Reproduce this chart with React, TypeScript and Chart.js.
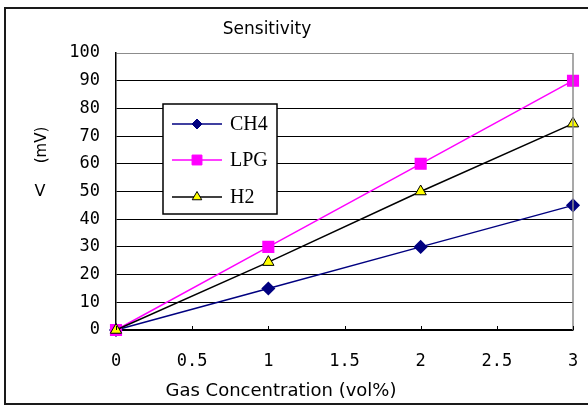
import React, { useEffect, useRef } from "react";
import { Chart, registerables } from "chart.js";

Chart.register(...registerables);

// ---- data ----
const gasConcentration = [0, 1, 2, 3];
const ch4Values = [0, 15, 30, 45];
const lpgValues = [0, 30, 60, 90];
const h2Values = [0, 24.5, 50, 74.5];
const seriesNames = ["CH4", "LPG", "H2"];
const xTickValues = [0, 0.5, 1, 1.5, 2, 2.5, 3];
const yTickValues = [0, 10, 20, 30, 40, 50, 60, 70, 80, 90, 100];
const chartTitle = "Sensitivity";
const xTitle = "Gas Concentration (vol%)";
const yTitleUnit = "(mV)";
const yTitleSymbol = "V";

const tickFont = "DejaVu Sans Mono";
const sansFont = "DejaVu Sans";
const serifFont = "Liberation Serif";

type MarkerStyle = "rectRot" | "rect" | "triangle";

function drawMarker(
  ctx: CanvasRenderingContext2D,
  style: MarkerStyle,
  x: number,
  y: number,
  r: number,
  fill: string,
  stroke: string
) {
  ctx.save();
  ctx.beginPath();
  if (style === "rectRot") {
    ctx.moveTo(x, y - r);
    ctx.lineTo(x + r, y);
    ctx.lineTo(x, y + r);
    ctx.lineTo(x - r, y);
    ctx.closePath();
  } else if (style === "rect") {
    const s = r * Math.SQRT1_2;
    ctx.rect(x - s, y - s, 2 * s, 2 * s);
  } else {
    let rad = 0;
    ctx.moveTo(x + Math.sin(rad) * r, y - Math.cos(rad) * r);
    rad += (2 * Math.PI) / 3;
    ctx.lineTo(x + Math.sin(rad) * r, y - Math.cos(rad) * r);
    rad += (2 * Math.PI) / 3;
    ctx.lineTo(x + Math.sin(rad) * r, y - Math.cos(rad) * r);
    ctx.closePath();
  }
  ctx.fillStyle = fill;
  ctx.fill();
  ctx.strokeStyle = stroke;
  ctx.lineWidth = 1;
  ctx.stroke();
  ctx.restore();
}

const legendMarkers: { style: MarkerStyle; r: number }[] = [
  { style: "rectRot", r: 5 },
  { style: "rect", r: 7 },
  { style: "triangle", r: 5.5 },
];

const decorPlugin = {
  id: "decor",
  beforeDraw(chart: any) {
    const ctx: CanvasRenderingContext2D = chart.ctx;
    ctx.save();
    ctx.fillStyle = "#fff";
    ctx.fillRect(0, 0, chart.width, chart.height);
    // outer frame
    ctx.strokeStyle = "#1a1a1a";
    ctx.lineWidth = 2;
    ctx.beginPath();
    ctx.moveTo(chart.width, 8);
    ctx.lineTo(5, 8);
    ctx.lineTo(5, chart.height - 2);
    ctx.lineTo(chart.width, chart.height - 2);
    ctx.stroke();
    ctx.restore();
  },
  afterDraw(chart: any) {
    const ctx: CanvasRenderingContext2D = chart.ctx;
    const area = chart.chartArea;
    const xs = chart.scales.x;
    ctx.save();
    // right border (gray)
    ctx.strokeStyle = "#8c8c8c";
    ctx.lineWidth = 1.5;
    ctx.beginPath();
    ctx.moveTo(area.right, area.top);
    ctx.lineTo(area.right, area.bottom);
    ctx.stroke();
    // inward x ticks
    ctx.strokeStyle = "#000";
    ctx.lineWidth = 1;
    xTickValues.forEach((v) => {
      const px = Math.round(xs.getPixelForValue(v)) + 0.5;
      ctx.beginPath();
      ctx.moveTo(px, area.bottom - 4);
      ctx.lineTo(px, area.bottom);
      ctx.stroke();
    });
    // chart title
    ctx.fillStyle = "#000";
    ctx.textAlign = "center";
    ctx.textBaseline = "middle";
    ctx.font = `17px "${sansFont}"`;
    ctx.fillText(chartTitle, 267, area.top - 23);
    // x axis title
    ctx.font = `18px "${sansFont}"`;
    ctx.fillText(xTitle, 281, area.bottom + 61);
    // y axis title (vertical writing)
    ctx.save();
    ctx.translate(42, area.top + 92);
    ctx.rotate(-Math.PI / 2);
    ctx.font = `15px "${sansFont}"`;
    ctx.fillText(yTitleUnit, 0, 0);
    ctx.restore();
    ctx.font = `16px "${sansFont}"`;
    ctx.fillText(yTitleSymbol, 40, area.top + 139);

    // legend
    const lx = area.left + 47;
    const ly = area.top + 51;
    const lw = 114;
    const lh = 110;
    ctx.fillStyle = "#fff";
    ctx.fillRect(lx, ly, lw, lh);
    ctx.strokeStyle = "#000";
    ctx.lineWidth = 1.5;
    ctx.strokeRect(lx, ly, lw, lh);
    const rows = [20, 56, 93];
    chart.data.datasets.forEach((ds: any, i: number) => {
      const y = ly + rows[i];
      ctx.strokeStyle = ds.borderColor;
      ctx.lineWidth = 1.5;
      ctx.beginPath();
      ctx.moveTo(lx + 9, y);
      ctx.lineTo(lx + 59, y);
      ctx.stroke();
      drawMarker(
        ctx,
        legendMarkers[i].style,
        lx + 34,
        y,
        legendMarkers[i].r,
        ds.pointBackgroundColor,
        ds.pointBorderColor
      );
      ctx.fillStyle = "#000";
      ctx.textAlign = "left";
      ctx.textBaseline = "middle";
      ctx.font = `20px "${serifFont}"`;
      ctx.fillText(ds.label, lx + 67, y + 1);
    });
    ctx.restore();
  },
};

export default function App() {
  const canvasRef = useRef<HTMLCanvasElement>(null);

  useEffect(() => {
    const canvas = canvasRef.current;
    if (!canvas) return;
    const toPoints = (vals: number[]) =>
      gasConcentration.map((x, i) => ({ x, y: vals[i] }));

    const chart = new Chart(canvas, {
      type: "line",
      data: {
        datasets: [
          {
            label: seriesNames[0],
            data: toPoints(ch4Values),
            borderColor: "#000080",
            backgroundColor: "#000080",
            pointBackgroundColor: "#000080",
            pointBorderColor: "#000080",
            pointStyle: "rectRot",
            pointRadius: 6,
            borderWidth: 1.5,
            order: 2,
            clip: false,
          },
          {
            label: seriesNames[1],
            data: toPoints(lpgValues),
            borderColor: "#ff00ff",
            backgroundColor: "#ff00ff",
            pointBackgroundColor: "#ff00ff",
            pointBorderColor: "#ff00ff",
            pointStyle: "rect",
            pointRadius: 7.5,
            borderWidth: 1.5,
            order: 1,
            clip: false,
          },
          {
            label: seriesNames[2],
            data: toPoints(h2Values),
            borderColor: "#000000",
            backgroundColor: "#ffff00",
            pointBackgroundColor: "#ffff00",
            pointBorderColor: "#000000",
            pointBorderWidth: 1,
            pointStyle: "triangle",
            pointRadius: 6.5,
            borderWidth: 1.5,
            order: 0,
            clip: false,
          },
        ] as any,
      },
      options: {
        animation: false,
        responsive: false,
        devicePixelRatio: 1,
        events: [],
        layout: { padding: { top: 53, right: 15, left: 0, bottom: 0 } },
        plugins: {
          legend: { display: false },
          title: { display: false },
          tooltip: { enabled: false },
        },
        scales: {
          x: {
            type: "linear",
            min: 0,
            max: 3,
            afterBuildTicks: (scale: any) => {
              scale.ticks = xTickValues.map((v) => ({ value: v }));
            },
            afterFit: (scale: any) => {
              scale.height = 76;
              scale.paddingLeft = 0;
              scale.paddingRight = 0;
            },
            ticks: {
              color: "#000",
              padding: 21,
              maxRotation: 0,
              autoSkip: false,
              font: { family: tickFont, size: 17 },
              callback: (v: any) => String(v),
            },
            grid: { drawOnChartArea: false, drawTicks: false },
            border: { display: true, color: "#000", width: 1.5 },
          },
          y: {
            type: "linear",
            min: 0,
            max: 100,
            afterBuildTicks: (scale: any) => {
              scale.ticks = yTickValues.map((v) => ({ value: v }));
            },
            afterFit: (scale: any) => {
              scale.width = 116;
              scale.paddingTop = 0;
              scale.paddingBottom = 0;
            },
            ticks: {
              color: "#000",
              padding: 16,
              autoSkip: false,
              font: { family: tickFont, size: 17 },
              callback: (v: any) => String(v),
            },
            grid: {
              drawTicks: false,
              color: (c: any) =>
                c.tick && c.tick.value === 100 ? "#8c8c8c" : "#000",
              lineWidth: 1,
            },
            border: { display: true, color: "#000", width: 1.5 },
          },
        },
      } as any,
      plugins: [decorPlugin],
    });
    return () => chart.destroy();
  }, []);

  return (
    <div
      style={{
        position: "absolute",
        left: 0,
        top: 0,
        width: 588,
        height: 406,
        background: "#fff",
      }}
    >
      <canvas ref={canvasRef} width={588} height={406} style={{ display: "block" }} />
    </div>
  );
}
